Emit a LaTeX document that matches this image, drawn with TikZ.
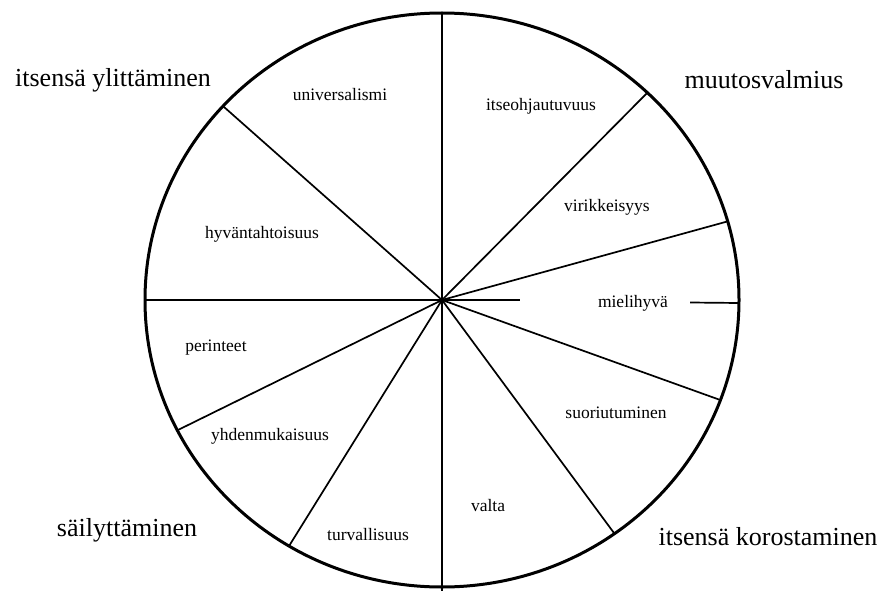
\documentclass[tikz,border=0pt]{standalone}
\usepackage{fontspec}
\setmainfont{Liberation Serif}
\begin{document}
\begin{tikzpicture}[x=1pt,y=-1pt,
  rim/.style={line width=3pt},
  ray/.style={line width=1.7pt},
  inner/.style={font=\fontsize{17.5}{20}\selectfont, inner sep=0pt},
  outer/.style={font=\fontsize{26}{30}\selectfont, inner sep=0pt}]
\useasboundingbox (0,0) rectangle (883,591);
\coordinate (c) at (442,300);
\draw[rim] (c) ellipse [x radius=297, y radius=-287];
\foreach \n/\t in {a/90,b/137.5,d/46.25,e/15.9,g/-20.4,h/-54.5,m/-121,p/-153,q/180}{
  \coordinate (e\n) at ({442+297*cos(\t)},{300-287*sin(\t)});
}
\coordinate (ek) at (442,592);
\coordinate (rin) at (520,300);
\coordinate (rout1) at (690,302.5);
\coordinate (rout2) at (739,303);
\draw[ray] (ea) -- (ek);
\foreach \n in {b,d,e,g,h,m,p,q}{ \draw[ray] (c) -- (e\n); }
\draw[ray] (c) -- (rin);
\draw[ray] (rout1) -- (rout2);
\node[inner] (n1) at (340,95) {universalismi};
\node[inner] (n2) at (541,106) {itseohjautuvuus};
\node[inner] (n3) at (607,207) {virikkeisyys};
\node[inner] (n4) at (633,303) {mielihyvä};
\node[inner] (n5) at (262,234) {hyväntahtoisuus};
\node[inner] (n6) at (216,348) {perinteet};
\node[inner] (n7) at (270,436) {yhdenmukaisuus};
\node[inner] (n8) at (616,413) {suoriutuminen};
\node[inner] (n9) at (488,506) {valta};
\node[inner] (n10) at (368,535) {turvallisuus};
\node[outer] (o1) at (113,80) {itsensä ylittäminen};
\node[outer] (o2) at (764,80) {muutosvalmius};
\node[outer] (o3) at (127,530) {säilyttäminen};
\node[outer] (o4) at (768,537) {itsensä korostaminen};
\end{tikzpicture}
\end{document}
